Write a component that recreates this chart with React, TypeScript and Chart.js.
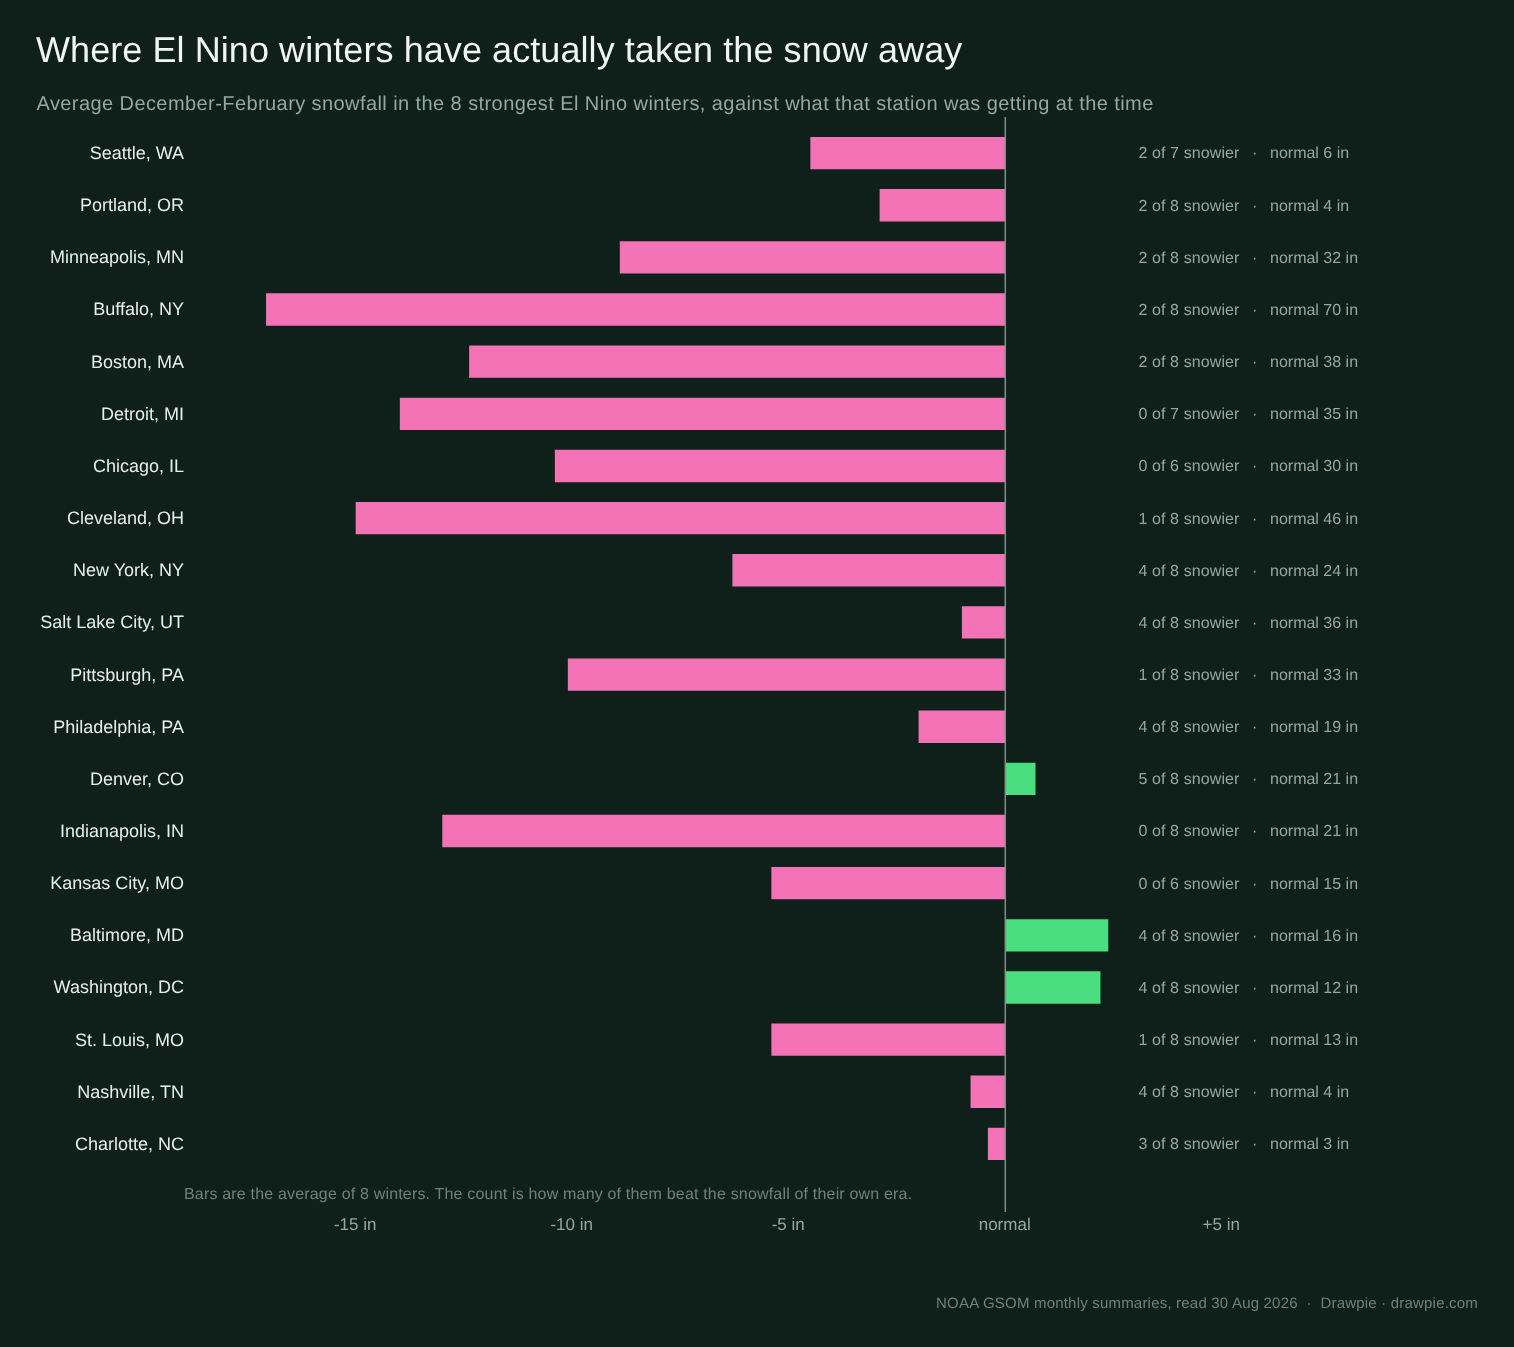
import { useEffect, useRef } from 'react';
import { Chart, registerables } from 'chart.js';
import type { Plugin } from 'chart.js';

Chart.register(...registerables);

const STATIONS = [
  'Seattle, WA', 'Portland, OR', 'Minneapolis, MN', 'Buffalo, NY', 'Boston, MA',
  'Detroit, MI', 'Chicago, IL', 'Cleveland, OH', 'New York, NY', 'Salt Lake City, UT',
  'Pittsburgh, PA', 'Philadelphia, PA', 'Denver, CO', 'Indianapolis, IN', 'Kansas City, MO',
  'Baltimore, MD', 'Washington, DC', 'St. Louis, MO', 'Nashville, TN', 'Charlotte, NC',
];
const DEPARTURE = [
  -4.5, -2.9, -8.9, -17.07, -12.38,
  -13.98, -10.4, -15.0, -6.3, -1.0,
  -10.1, -2.0, 0.7, -13.0, -5.4,
  2.38, 2.2, -5.4, -0.8, -0.4,
];
const SNOWIER = [2, 2, 2, 2, 2, 0, 0, 1, 4, 4, 1, 4, 5, 0, 0, 4, 4, 1, 4, 3];
const WINTERS = [7, 8, 8, 8, 8, 7, 6, 8, 8, 8, 8, 8, 8, 8, 6, 8, 8, 8, 8, 8];
const NORMAL = [6, 4, 32, 70, 38, 35, 30, 46, 24, 36, 33, 19, 21, 21, 15, 16, 12, 13, 4, 3];
const X_TICKS = [-15, -10, -5, 0, 5];

const BG = '#0f201a';
const PINK = '#f472b6';
const GREEN = '#4ade80';
const FONT = '"Liberation Sans", Arial, sans-serif';

const pageText: Plugin<'bar'> = {
  id: 'pageText',
  beforeDraw(chart) {
    (chart.ctx as any).textRendering = 'geometricPrecision';
  },
  beforeDatasetsDraw(chart) {
    const ctx = chart.ctx as any;
    const y = chart.scales.y;
    ctx.save();
    ctx.textBaseline = 'middle';

    ctx.textAlign = 'left';
    ctx.fillStyle = '#f1f5f2';
    ctx.font = `36px ${FONT}`;
    ctx.letterSpacing = '0.07px';
    ctx.fillText('Where El Nino winters have actually taken the snow away', 36, 52);
    ctx.fillStyle = '#94a89f';
    ctx.font = `20px ${FONT}`;
    ctx.letterSpacing = '0.42px';
    ctx.fillText('Average December-February snowfall in the 8 strongest El Nino winters, against what that station was getting at the time', 36.5, 104);

    ctx.fillStyle = '#6f827a';
    ctx.font = `16px ${FONT}`;
    ctx.letterSpacing = '0.18px';
    ctx.fillText('Bars are the average of 8 winters. The count is how many of them beat the snowfall of their own era.', 184, 1195);

    ctx.fillStyle = '#94a89f';
    STATIONS.forEach((_, i) => {
      const py = y.getPixelForValue(i) + 1;
      ctx.letterSpacing = '0.11px';
      ctx.fillText(`${SNOWIER[i]} of ${WINTERS[i]} snowier`, 1138.4, py);
      ctx.letterSpacing = '0px';
      ctx.fillText('·', 1252, py);
      ctx.fillText(`normal ${NORMAL[i]} in`, 1270, py);
    });

    ctx.textAlign = 'right';
    ctx.fillStyle = '#6f827a';
    ctx.font = `15px ${FONT}`;
    ctx.letterSpacing = '0.2px';
    ctx.fillText('NOAA GSOM monthly summaries, read 30 Aug 2026  ·  Drawpie · drawpie.com', 1478, 1304);
    ctx.restore();
  },
  afterDatasetsDraw(chart) {
    const { ctx } = chart;
    const x0 = chart.scales.x.getPixelForValue(0);
    ctx.save();
    ctx.strokeStyle = '#7f9089';
    ctx.lineWidth = 1.5;
    ctx.beginPath();
    ctx.moveTo(x0 + 0.1, 117);
    ctx.lineTo(x0 + 0.1, 1212);
    ctx.stroke();
    ctx.restore();
  },
};

export default function App() {
  const canvasRef = useRef<HTMLCanvasElement>(null);

  useEffect(() => {
    if (!canvasRef.current) return;
    const chart = new Chart(canvasRef.current, {
      type: 'bar',
      data: {
        labels: STATIONS,
        datasets: [{
          data: DEPARTURE,
          backgroundColor: DEPARTURE.map(v => (v < 0 ? PINK : GREEN)),
          borderWidth: 0,
          barPercentage: 0.62,
          categoryPercentage: 1,
        }],
      },
      options: {
        indexAxis: 'y',
        responsive: false,
        animation: false,
        layout: { padding: { top: 127, right: 292.3, left: 0, bottom: 0 } },
        plugins: { legend: { display: false }, tooltip: { enabled: false } },
        scales: {
          x: {
            min: -18.78,
            max: 5,
            grid: { display: false, drawTicks: false },
            border: { display: false },
            afterBuildTicks: scale => { scale.ticks = X_TICKS.map(value => ({ value })); },
            afterFit: scale => { scale.height = 177; },
            ticks: {
              autoSkip: false,
              maxRotation: 0,
              padding: 45,
              labelOffset: -0.5,
              color: '#94a89f',
              font: { family: FONT, size: 17 },
              callback: v => (v === 0 ? 'normal' : `${Number(v) > 0 ? '+' : ''}${v} in`),
            },
          },
          y: {
            grid: { display: false, drawTicks: false },
            border: { display: false },
            afterFit: scale => { scale.width = 192; },
            ticks: {
              autoSkip: false,
              padding: 8,
              labelOffset: 1,
              color: '#e8efea',
              font: { family: FONT, size: 18 },
            },
          },
        },
      },
      plugins: [pageText],
    });
    return () => { chart.destroy(); };
  }, []);

  return (
    <div style={{ position: 'absolute', left: 0, top: 0, width: 1514, height: 1347, background: BG }}>
      <canvas ref={canvasRef} width={1514} height={1347} style={{ display: 'block' }} />
    </div>
  );
}
